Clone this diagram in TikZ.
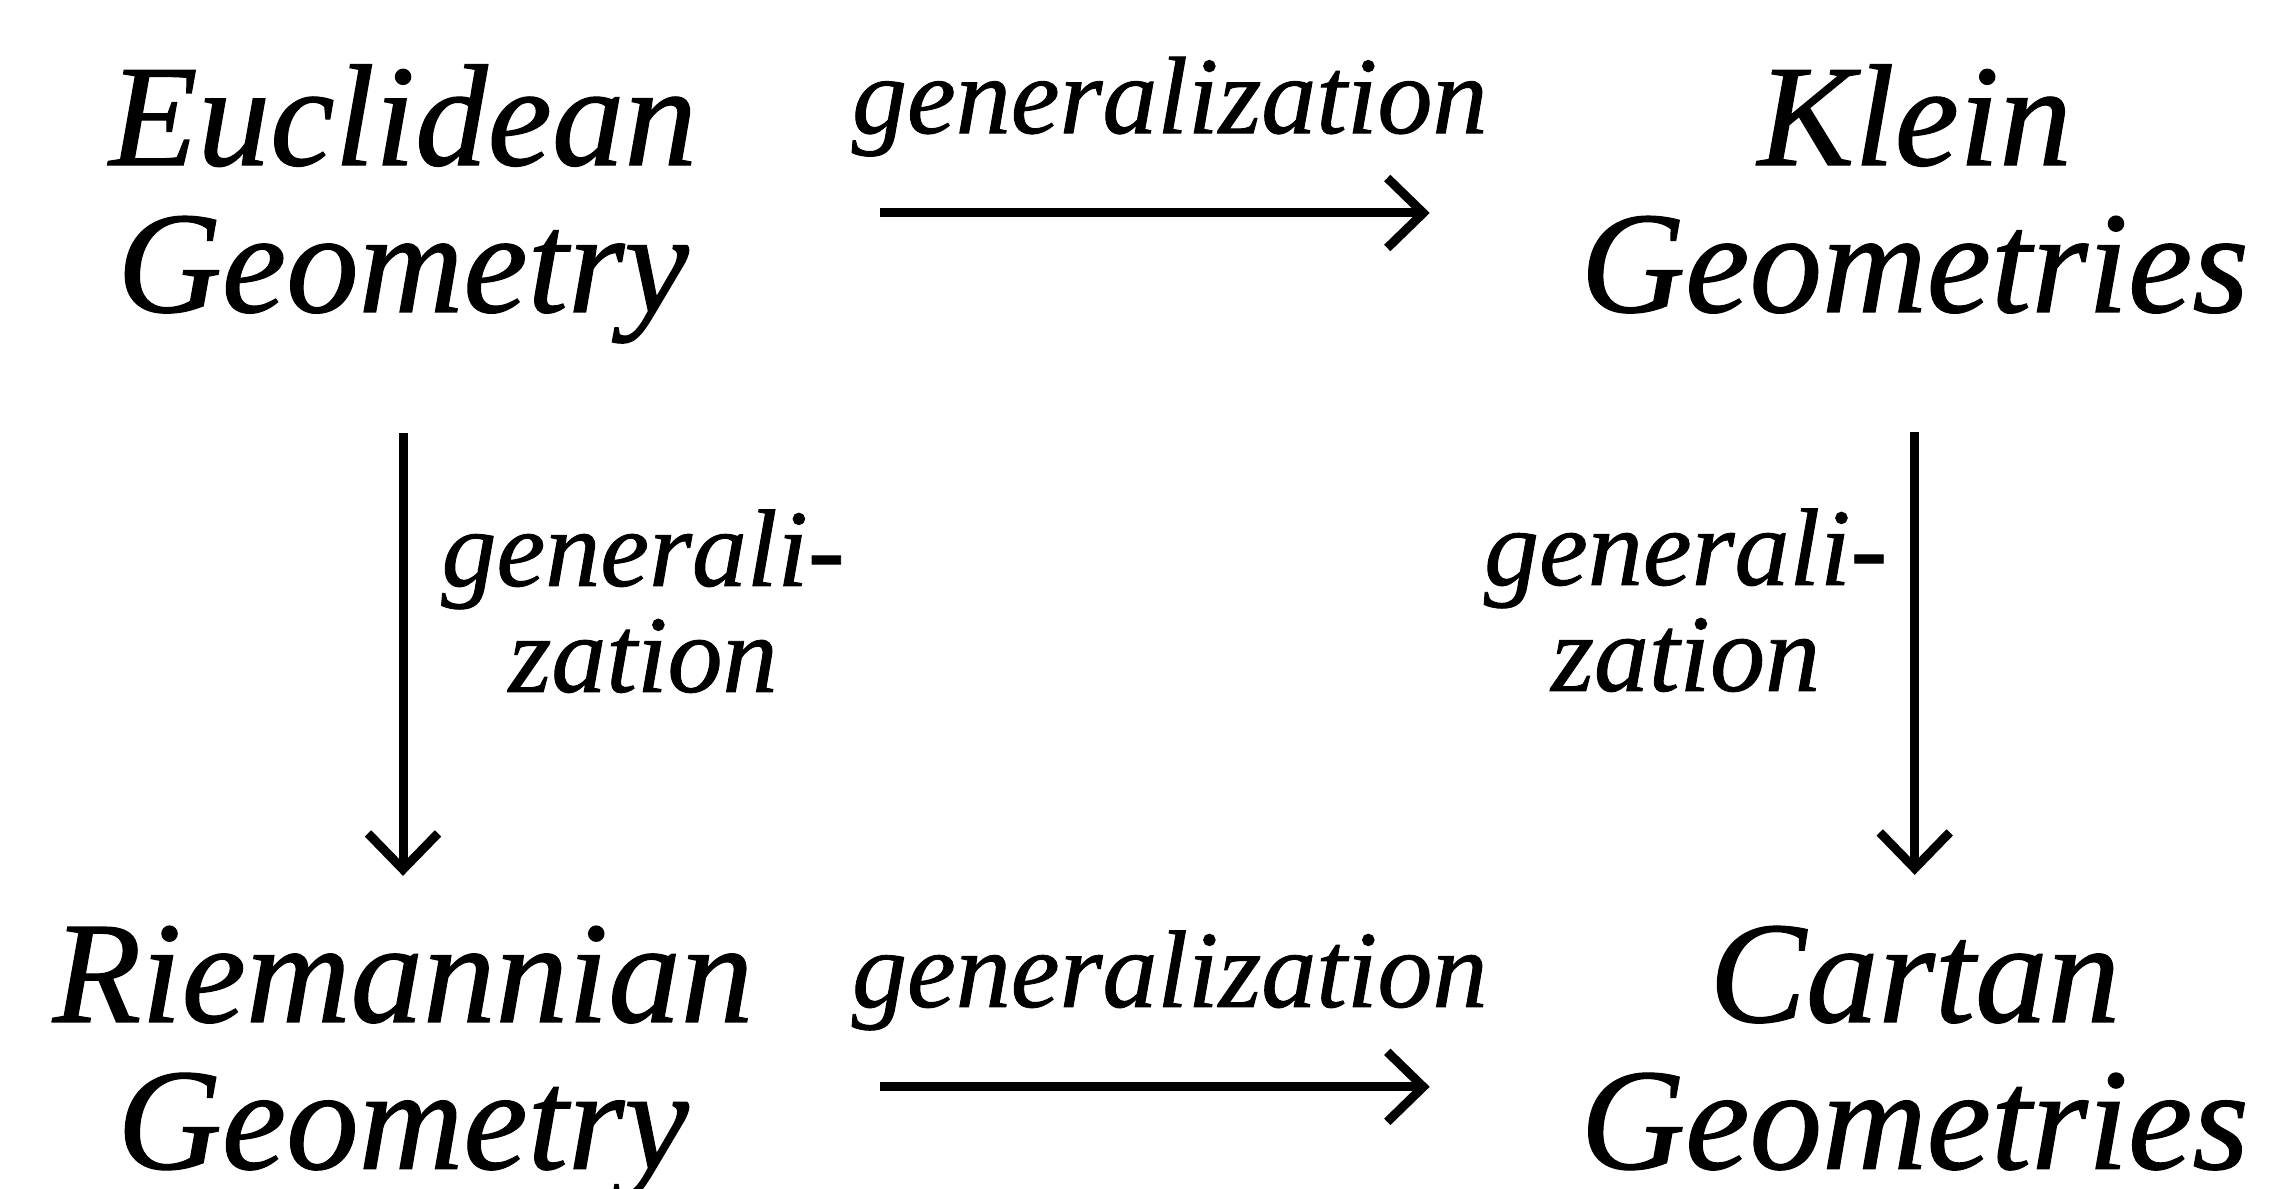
\documentclass[tikz,border=0pt]{standalone}
\usepackage{fontspec}
\setmainfont{Liberation Serif}
\newfontfamily\geofont{Liberation Serif}[FakeBold=0.8]
\usetikzlibrary{arrows.meta, positioning}
\tikzset{->, % every connector is an arrow
>={Straight Barb[length=0.72cm, width=1.4cm]}, % open arrow head
geo/.style={align=center, inner sep=0pt, font=\geofont\fontsize{82.5}{83.6}\selectfont\itshape}, % the four geometries
gen/.style={align=center, inner sep=0pt, font=\geofont\fontsize{62.6}{60.3}\selectfont\itshape}, % the arrow labels
}

\begin{document}
\begin{tikzpicture}[x=0.02cm, y=-0.02cm, line width=0.18cm]
  \useasboundingbox (0,0) rectangle (2275,1189);

  \node[geo, anchor=base] (euc) at (403,312) {Euclidean\\Geometry};
  \node[geo, anchor=base] (klein) at ([xshift=30.24cm]euc.base) {Klein\\Geometries};
  \node[geo, anchor=base] (riem) at ([yshift=-17.14cm]euc.base) {Riemannian\\Geometry};
  \node[geo, anchor=base] (cartan) at ([yshift=-17.14cm]klein.base) {Cartan\\Geometries};

  \draw ([shift={(477,-99)}]euc.base) -- ([shift={(-485,-99)}]klein.base)
        node[gen, pos=0.527, above=1.04cm] {generalization};
  \draw ([shift={(477,-82)}]riem.base) -- ([shift={(-485,-82)}]cartan.base)
        node[gen, pos=0.527, above=1.04cm] {generalization};
  \draw ([shift={(0,121)}]euc.base) -- ([shift={(0,-293)}]riem.base)
        node[gen, pos=0.38, right=0.68cm] {generali-\\zation};
  \draw ([shift={(0,120)}]klein.base) -- ([shift={(0,-294)}]cartan.base)
        node[gen, pos=0.38, left=0.46cm] {generali-\\zation};

\end{tikzpicture}
\end{document}
